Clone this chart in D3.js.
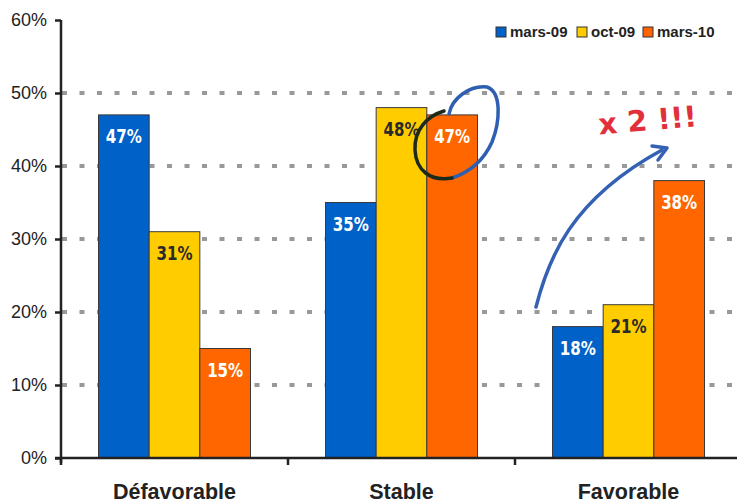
<!DOCTYPE html>
<html>
<head>
<meta charset="utf-8">
<script src="https://cdn.jsdelivr.net/npm/d3@7"></script>
<style>
  body { margin: 0; background: #fff; }
  svg { display: block; }
</style>
</head>
<body>
<svg id="chart" width="737" height="504"></svg>
<script>
// Évolution des opinions par vague
const categories = ["Défavorable", "Stable", "Favorable"];
const series = ["mars-09", "oct-09", "mars-10"];
const marsValues09 = [0.47, 0.35, 0.18];
const octValues09 = [0.31, 0.48, 0.21];
const marsValues10 = [0.15, 0.47, 0.38];
const yTicks = [0, 0.1, 0.2, 0.3, 0.4, 0.5, 0.6];
const colors = ["#0061c8", "#ffcc00", "#ff6600"];
const labelColors = ["#ffffff", "#2a2a2a", "#ffffff"];

const values = [marsValues09, octValues09, marsValues10];

const svg = d3.select("#chart");

const y = d3.scaleLinear().domain([0, 0.6]).range([458, 20]);
const x0 = d3.scaleBand().domain(categories).range([61, 742]).padding(0);
const x1 = d3.scaleBand().domain(series).range([0, 152]).padding(0);
const groupOffset = (x0.bandwidth() - 152) / 2;

// dashed gridlines
svg.append("g")
  .selectAll("line")
  .data(yTicks.filter(t => t > 0 && t < 0.6))
  .join("line")
  .attr("x1", 62).attr("x2", 737)
  .attr("y1", d => y(d)).attr("y2", d => y(d))
  .attr("stroke", "#999")
  .attr("stroke-width", 4)
  .attr("stroke-dasharray", "5 12.5");

// bars
const groups = svg.append("g")
  .selectAll("g")
  .data(categories)
  .join("g")
  .attr("transform", d => `translate(${x0(d) + groupOffset},0)`);

const cells = (c, ci) => series.map((s, si) => ({ s, si, v: values[si][ci] }));

groups.selectAll("rect")
  .data(cells)
  .join("rect")
  .attr("x", d => x1(d.s))
  .attr("y", d => y(d.v))
  .attr("width", x1.bandwidth())
  .attr("height", d => y(0) - y(d.v))
  .attr("fill", d => colors[d.si])
  .attr("stroke", "#3a3a3a")
  .attr("stroke-width", 1);

// value labels, narrowed to a condensed look
groups.selectAll("text")
  .data(cells)
  .join("text")
  .attr("transform", d => `translate(${x1(d.s) + x1.bandwidth() / 2},${y(d.v) + 28}) scale(0.86,1)`)
  .attr("text-anchor", "middle")
  .attr("fill", d => labelColors[d.si])
  .style("font-family", "'DejaVu Sans Condensed', 'DejaVu Sans', sans-serif")
  .style("font-weight", "bold")
  .style("font-size", "19.5px")
  .text(d => d3.format(".0%")(d.v));

// y axis
const yAxis = svg.append("g")
  .attr("transform", "translate(61,0)")
  .call(d3.axisLeft(y).tickValues(yTicks).tickFormat(d3.format(".0%")).tickSize(6).tickPadding(8));
yAxis.select(".domain").remove();
yAxis.selectAll(".tick line").attr("stroke", "#222").attr("stroke-width", 2.5);
yAxis.selectAll(".tick text")
  .attr("fill", "#222")
  .style("font-family", "Arial, 'Liberation Sans', sans-serif")
  .style("font-size", "18px");
svg.append("line")
  .attr("x1", 61).attr("x2", 61).attr("y1", y(0.6)).attr("y2", 463)
  .attr("stroke", "#222").attr("stroke-width", 2.5);

// x axis
svg.append("line")
  .attr("x1", 55).attr("x2", 737).attr("y1", y(0)).attr("y2", y(0))
  .attr("stroke", "#222").attr("stroke-width", 2.5);
svg.append("g")
  .selectAll("line")
  .data(categories)
  .join("line")
  .attr("x1", d => x0(d)).attr("x2", d => x0(d))
  .attr("y1", y(0)).attr("y2", y(0) + 7)
  .attr("stroke", "#222").attr("stroke-width", 2.5);
svg.append("g")
  .selectAll("text")
  .data(categories)
  .join("text")
  .attr("x", d => x0(d) + x0.bandwidth() / 2)
  .attr("y", 499)
  .attr("text-anchor", "middle")
  .attr("fill", "#222")
  .style("font-family", "Arial, 'Liberation Sans', sans-serif")
  .style("font-weight", "bold")
  .style("font-size", "21.5px")
  .text(d => d);

// legend
const legendX = [496, 577, 643];
const legend = svg.append("g")
  .selectAll("g")
  .data(series)
  .join("g")
  .attr("transform", (d, i) => `translate(${legendX[i]},27)`);
legend.append("rect")
  .attr("width", 10).attr("height", 10)
  .attr("fill", (d, i) => colors[i])
  .attr("stroke", "#333").attr("stroke-width", 1);
legend.append("text")
  .attr("x", 14).attr("y", 10)
  .attr("fill", "#222")
  .style("font-family", "Arial, 'Liberation Sans', sans-serif")
  .style("font-weight", "bold")
  .style("font-size", "15px")
  .text(d => d);

// hand-drawn annotations
const ann = svg.append("g").attr("fill", "none").attr("stroke-linecap", "round");
ann.append("path")
  .attr("d", "M449,114 C452,98 470,85 487,87 C502,92 500,122 492,142 C484,160 470,172 452,178")
  .attr("stroke", "#2f5fb0").attr("stroke-width", 3.5);
ann.append("path")
  .attr("d", "M452,178 C430,182 416,170 415,150 C414,130 427,116 444,111")
  .attr("stroke", "#1c2a1c").attr("stroke-width", 3.5);

ann.append("path")
  .attr("d", "M536,307 C548,260 570,200 662,150")
  .attr("stroke", "#3561b5").attr("stroke-width", 3.5);
ann.append("path")
  .attr("d", "M652,146 L667,148 L658,160")
  .attr("stroke", "#3561b5").attr("stroke-width", 3.5).attr("stroke-linejoin", "round");

svg.append("text")
  .attr("x", 598).attr("y", 131)
  .attr("fill", "#e1303b")
  .attr("transform", "rotate(-5 640 118)")
  .style("font-family", "'DejaVu Sans', sans-serif")
  .style("font-weight", "bold")
  .style("font-size", "29px")
  .text("x 2 !!!");
</script>
</body>
</html>
